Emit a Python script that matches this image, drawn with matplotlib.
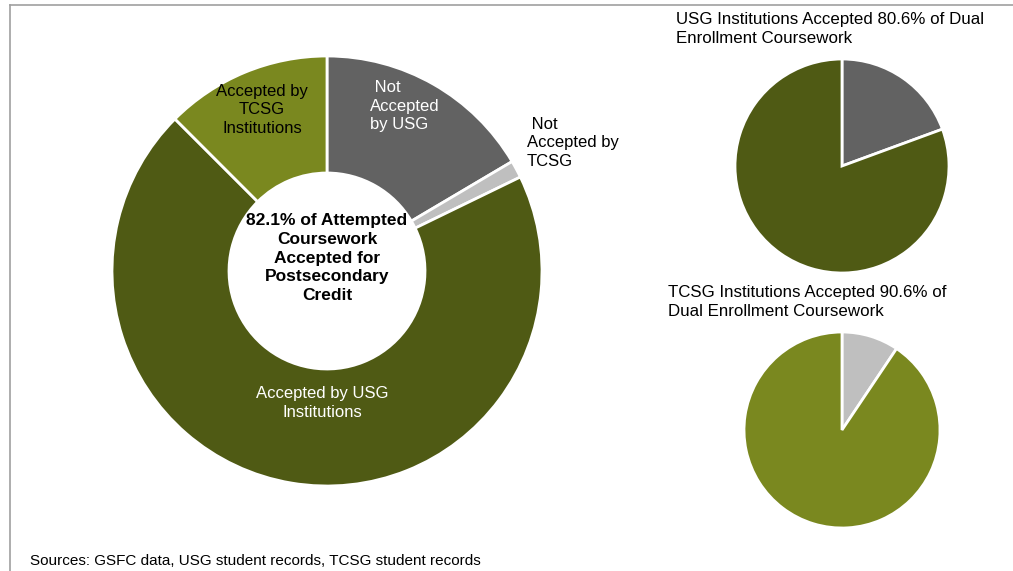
import matplotlib.pyplot as plt
from matplotlib.lines import Line2D

plt.rcParams['font.family'] = ['Liberation Sans', 'DejaVu Sans']

# donut: share of all attempted dual enrollment coursework (%)
donut_labels = ["Not Accepted by USG", "Not Accepted by TCSG",
                "Accepted by USG Institutions", "Accepted by TCSG Institutions"]
donut_values = [16.5, 1.3, 69.7, 12.5]

usg_labels = ["Not accepted", "Accepted"]
usg_values = [19.4, 80.6]

tcsg_labels = ["Not accepted", "Accepted"]
tcsg_values = [9.4, 90.6]

dark_grey = "#626262"
light_grey = "#BFBFBF"
dark_olive = "#4F5A14"
olive = "#7A881F"

W, H = 1013, 571
fig = plt.figure(figsize=(W / 100, H / 100), dpi=100)
ax = fig.add_axes([0, 0, 1, 1])

wp = dict(edgecolor="white", linewidth=2)

# main donut
ax.pie(donut_values, colors=[dark_grey, light_grey, dark_olive, olive],
       startangle=90, counterclock=False, center=(327, H - 271), radius=215,
       wedgeprops=dict(width=117, **wp))

# USG pie
ax.pie(usg_values, colors=[dark_grey, dark_olive], startangle=90,
       counterclock=False, center=(842, H - 166), radius=107, wedgeprops=wp)

# TCSG pie
ax.pie(tcsg_values, colors=[light_grey, olive], startangle=90,
       counterclock=False, center=(842, H - 430), radius=98, wedgeprops=wp)

ax.set_xlim(0, W)
ax.set_ylim(0, H)
ax.set_aspect("auto")
ax.axis("off")

fs = 12
ls = 1.32
ax.text(262, H - 110, "Accepted by\nTCSG\nInstitutions", ha="center", va="center",
        fontsize=fs, color="black", linespacing=ls)
ax.text(370, H - 106, " Not\nAccepted\nby USG", ha="left", va="center",
        fontsize=fs, color="white", linespacing=ls)
ax.text(527, H - 143, " Not\nAccepted by\nTCSG", ha="left", va="center",
        fontsize=fs, color="black", linespacing=ls)
ax.text(322, H - 403, "Accepted by USG\nInstitutions", ha="center", va="center",
        fontsize=fs, color="white", linespacing=ls)
ax.text(327, H - 258, "82.1% of Attempted\nCoursework\nAccepted for\nPostsecondary\nCredit",
        ha="center", va="center", fontsize=12.5, fontweight="bold", linespacing=1.32)

ax.text(676, H - 12, "USG Institutions Accepted 80.6% of Dual\nEnrollment Coursework",
        ha="left", va="top", fontsize=12.2, linespacing=1.35)
ax.text(668, H - 285, "TCSG Institutions Accepted 90.6% of\nDual Enrollment Coursework",
        ha="left", va="top", fontsize=12.2, linespacing=1.35)

ax.text(30, H - 561, "Sources: GSFC data, USG student records, TCSG student records",
        ha="left", va="center", fontsize=11)

# frame lines (top and left)
ax.add_line(Line2D([10, W], [H - 5, H - 5], color="#A0A0A0", lw=1.2))
ax.add_line(Line2D([10, 10], [H - 5, 0], color="#A0A0A0", lw=1.2))

fig.savefig("out.png", dpi=100)
